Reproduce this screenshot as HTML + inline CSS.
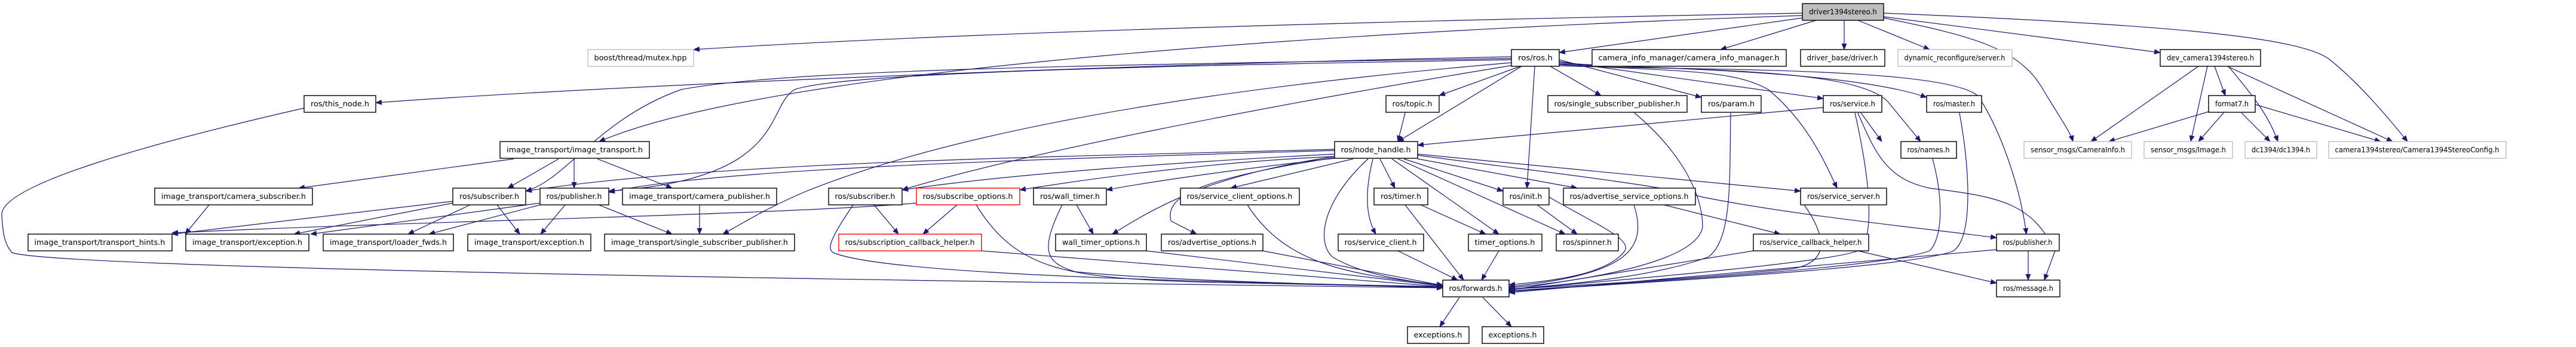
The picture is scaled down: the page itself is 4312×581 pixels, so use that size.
<!DOCTYPE html>
<html><head><meta charset="utf-8"><style>
html,body{margin:0;padding:0;background:#fff;}
svg{display:block;}
text{font-family:"DejaVu Sans","Liberation Sans",sans-serif;font-size:12px;fill:#000;}
.e{fill:none;stroke:#191970;stroke-width:1.2;}
.n{fill:#fff;stroke:#000;stroke-width:1.4;}
.g{fill:#fff;stroke:#bfbfbf;stroke-width:1.4;}
.r{fill:#fff;stroke:#ff0000;stroke-width:1.4;}
.d{fill:#bfbfbf;stroke:#000;stroke-width:1.4;}
</style></head><body>
<svg width="4312" height="581" viewBox="0 0 4312 581" xmlns="http://www.w3.org/2000/svg">
<defs><marker id="a" markerUnits="userSpaceOnUse" markerWidth="11" markerHeight="9" refX="10" refY="4.5" orient="auto"><path d="M0,0 L11,4.5 L0,9 z" fill="#191970"/></marker></defs>
<g class="e" marker-end="url(#a)">
<!-- driver edges -->
<path d="M3017,22 C2300,35 1600,55 1161,83"/>
<path d="M3017,26 C2300,50 1300,110 1003,237"/>
<path d="M3017,30 L2610,88"/>
<path d="M3040,34 L2880,83"/>
<path d="M3087,34 L3087,83"/>
<path d="M3110,34 L3230,83"/>
<path d="M3153,28 L3616,88"/>
<path d="M3153,30 C3300,60 3380,80 3420,150 C3450,200 3465,220 3470,237"/>
<path d="M3153,22 C3600,40 3850,60 3900,100 C3950,140 4000,200 4030,237"/>
<!-- ros.h edges -->
<path d="M2530,95 C1800,110 1000,145 629,172"/>
<path d="M2530,98 C1700,110 1300,120 1140,150 C1000,200 950,300 880,320"/>
<path d="M2530,100 C1800,112 1400,125 1330,150 C1280,180 1320,300 1019,320"/>
<path d="M2530,105 C2000,150 1600,220 1350,320 C1280,350 1250,370 1210,392"/>
<path d="M2540,108 C2100,180 1700,260 1510,318"/>
<path d="M2545,111 L2409,160"/>
<path d="M2547,111 L2340,237"/>
<path d="M2569,111 L2556,315"/>
<path d="M2595,111 L2680,160"/>
<path d="M2610,100 L2848,163"/>
<path d="M2610,103 L3052,165"/>
<path d="M2610,105 C2800,120 3100,110 3160,170 L3215,237"/>
<path d="M2610,107 C2800,115 3100,120 3225,163"/>
<path d="M2610,108 C2800,120 2900,115 2960,150 C3020,200 3050,260 3075,315"/>
<path d="M2610,110 C2800,118 3250,110 3310,160 C3340,200 3380,300 3392,392"/>
<!-- service etc -->
<path d="M3052,180 L2373,243"/>
<path d="M3115,189 L3150,237"/>
<path d="M3105,189 C3130,300 3140,400 3110,420 C3060,440 2700,470 2526,485"/>
<path d="M3110,189 C3140,260 3160,300 3230,315 C3350,330 3400,340 3440,420 L3422,469"/>
<path d="M3280,189 C3300,300 3300,400 3270,420 C3200,450 2700,475 2526,488"/>
<path d="M3235,266 C3255,340 3250,400 3230,420 C3150,450 2700,475 2526,487"/>
<path d="M2352,189 L2340,237"/>
<path d="M2736,189 C2820,260 2850,330 2850,380 C2840,440 2650,470 2526,482"/>
<path d="M2897,189 C2895,300 2900,400 2860,430 C2780,460 2650,475 2526,484"/>
<!-- node_handle edges -->
<path d="M2234,250 C1800,262 1200,270 880,320"/>
<path d="M2234,252 C1800,265 1200,280 1019,322"/>
<path d="M2234,258 C2000,270 1700,290 1510,318"/>
<path d="M2234,262 C2050,270 1850,295 1707,318"/>
<path d="M2234,265 C2100,280 1950,300 1852,318"/>
<path d="M2265,266 L2060,315"/>
<path d="M2234,264 C2000,300 1950,330 1960,370 L2003,392"/>
<path d="M2234,262 C2050,290 1960,330 1862,392"/>
<path d="M2310,266 L2335,315"/>
<path d="M2350,266 L2516,320"/>
<path d="M2373,266 L2640,315"/>
<path d="M2373,258 L3014,320"/>
<path d="M2373,260 C2600,290 2780,310 2850,330 C3000,360 3200,380 3342,398"/>
<path d="M2290,266 C2220,330 2200,400 2230,430 C2280,460 2350,470 2415,478"/>
<path d="M2298,266 C2285,320 2285,360 2303,392"/>
<path d="M2330,266 L2509,392"/>
<path d="M2340,266 L2620,392"/>
<!-- image transport -->
<path d="M350,343 L310,392"/>
<path d="M860,266 L500,315"/>
<path d="M935,266 L850,315"/>
<path d="M961,266 L961,315"/>
<path d="M1000,266 L1125,315"/>
<path d="M758,337 L288,392"/>
<path d="M758,340 L492,392"/>
<path d="M787,343 L683,392"/>
<path d="M832,343 L870,392"/>
<path d="M904,340 L520,392"/>
<path d="M904,343 L718,392"/>
<path d="M946,343 L905,392"/>
<path d="M1002,343 L1125,392"/>
<path d="M1534,340 C1300,360 700,370 288,390"/>
<path d="M1171,343 L1171,392"/>
<path d="M1463,343 L1504,392"/>
<path d="M1428,343 C1390,400 1380,420 1400,425 C1500,460 2000,472 2415,480"/>
<path d="M1602,343 L1545,392"/>
<path d="M1634,343 C1700,450 1780,465 2000,472 L2415,481"/>
<path d="M1643,420 L2415,480"/>
<path d="M1802,343 L1830,392"/>
<path d="M1778,343 C1740,420 1750,440 1800,455 C1950,470 2200,475 2415,482"/>
<path d="M1919,420 L2415,479"/>
<path d="M2114,420 L2415,478"/>
<path d="M2088,343 C2150,440 2250,460 2415,477"/>
<path d="M509,181 C250,240 0,310 3,360 C5,400 10,410 20,423 C100,450 1500,470 2415,482"/>
<path d="M2378,343 L2487,392"/>
<path d="M2352,343 L2450,469"/>
<path d="M2573,343 L2640,392"/>
<path d="M2593,330 C2680,380 2730,400 2720,420 C2690,460 2600,470 2526,477"/>
<path d="M2785,343 L2980,392"/>
<path d="M2735,343 C2760,420 2720,460 2526,480"/>
<path d="M3020,343 C3060,400 3060,440 3000,450 C2800,470 2600,480 2526,484"/>
<path d="M2935,420 L2526,486"/>
<path d="M3110,420 L3342,474"/>
<path d="M2340,420 L2440,469"/>
<path d="M2509,420 L2480,469"/>
<path d="M3342,418 L2526,490"/>
<path d="M3395,420 L3395,469"/>
<path d="M2443,498 L2410,547"/>
<path d="M2482,498 L2530,547"/>
<!-- dev -->
<path d="M3680,111 L3500,237"/>
<path d="M3695,111 L3667,237"/>
<path d="M3707,111 L3725,160"/>
<path d="M3730,111 C3780,170 3800,200 3813,237"/>
<path d="M3728,111 L4005,237"/>
<path d="M3697,187 L3530,237"/>
<path d="M3722,189 L3680,237"/>
<path d="M3752,189 L3800,237"/>
<path d="M3775,175 L3985,237"/>
</g>
<g>
<rect class="d" x="3017" y="6" width="136" height="28"/><text x="3085" y="24" text-anchor="middle" textLength="114" lengthAdjust="spacingAndGlyphs">driver1394stereo.h</text>
<rect class="g" x="984" y="83" width="177" height="28"/><text x="1072" y="101" text-anchor="middle" textLength="155" lengthAdjust="spacingAndGlyphs">boost/thread/mutex.hpp</text>
<rect class="n" x="2530" y="83" width="80" height="28"/><text x="2570" y="101" text-anchor="middle" textLength="58" lengthAdjust="spacingAndGlyphs">ros/ros.h</text>
<rect class="n" x="2665" y="83" width="325" height="28"/><text x="2827" y="101" text-anchor="middle" textLength="303" lengthAdjust="spacingAndGlyphs">camera_info_manager/camera_info_manager.h</text>
<rect class="n" x="3014" y="83" width="141" height="28"/><text x="3084" y="101" text-anchor="middle" textLength="119" lengthAdjust="spacingAndGlyphs">driver_base/driver.h</text>
<rect class="g" x="3177" y="83" width="191" height="28"/><text x="3272" y="101" text-anchor="middle" textLength="169" lengthAdjust="spacingAndGlyphs">dynamic_reconfigure/server.h</text>
<rect class="n" x="3616" y="83" width="168" height="28"/><text x="3700" y="101" text-anchor="middle" textLength="146" lengthAdjust="spacingAndGlyphs">dev_camera1394stereo.h</text>
<rect class="n" x="509" y="160" width="120" height="28"/><text x="569" y="178" text-anchor="middle" textLength="98" lengthAdjust="spacingAndGlyphs">ros/this_node.h</text>
<rect class="n" x="2320" y="160" width="89" height="28"/><text x="2364" y="178" text-anchor="middle" textLength="67" lengthAdjust="spacingAndGlyphs">ros/topic.h</text>
<rect class="n" x="2591" y="160" width="233" height="28"/><text x="2707" y="178" text-anchor="middle" textLength="211" lengthAdjust="spacingAndGlyphs">ros/single_subscriber_publisher.h</text>
<rect class="n" x="2848" y="160" width="100" height="28"/><text x="2898" y="178" text-anchor="middle" textLength="78" lengthAdjust="spacingAndGlyphs">ros/param.h</text>
<rect class="n" x="3052" y="160" width="98" height="28"/><text x="3101" y="178" text-anchor="middle" textLength="76" lengthAdjust="spacingAndGlyphs">ros/service.h</text>
<rect class="n" x="3225" y="160" width="92" height="28"/><text x="3271" y="178" text-anchor="middle" textLength="70" lengthAdjust="spacingAndGlyphs">ros/master.h</text>
<rect class="n" x="3697" y="160" width="78" height="28"/><text x="3736" y="178" text-anchor="middle" textLength="56" lengthAdjust="spacingAndGlyphs">format7.h</text>
<rect class="n" x="837" y="237" width="250" height="28"/><text x="962" y="255" text-anchor="middle" textLength="228" lengthAdjust="spacingAndGlyphs">image_transport/image_transport.h</text>
<rect class="n" x="2234" y="237" width="139" height="28"/><text x="2303" y="255" text-anchor="middle" textLength="117" lengthAdjust="spacingAndGlyphs">ros/node_handle.h</text>
<rect class="n" x="3182" y="237" width="93" height="28"/><text x="3228" y="255" text-anchor="middle" textLength="71" lengthAdjust="spacingAndGlyphs">ros/names.h</text>
<rect class="g" x="3388" y="237" width="180" height="28"/><text x="3478" y="255" text-anchor="middle" textLength="158" lengthAdjust="spacingAndGlyphs">sensor_msgs/CameraInfo.h</text>
<rect class="g" x="3589" y="237" width="148" height="28"/><text x="3663" y="255" text-anchor="middle" textLength="126" lengthAdjust="spacingAndGlyphs">sensor_msgs/Image.h</text>
<rect class="g" x="3758" y="237" width="120" height="28"/><text x="3818" y="255" text-anchor="middle" textLength="98" lengthAdjust="spacingAndGlyphs">dc1394/dc1394.h</text>
<rect class="g" x="3898" y="237" width="297" height="28"/><text x="4046" y="255" text-anchor="middle" textLength="275" lengthAdjust="spacingAndGlyphs">camera1394stereo/Camera1394StereoConfig.h</text>
<rect class="n" x="259" y="315" width="264" height="28"/><text x="391" y="333" text-anchor="middle" textLength="242" lengthAdjust="spacingAndGlyphs">image_transport/camera_subscriber.h</text>
<rect class="n" x="758" y="315" width="122" height="28"/><text x="819" y="333" text-anchor="middle" textLength="100" lengthAdjust="spacingAndGlyphs">ros/subscriber.h</text>
<rect class="n" x="904" y="315" width="115" height="28"/><text x="961" y="333" text-anchor="middle" textLength="93" lengthAdjust="spacingAndGlyphs">ros/publisher.h</text>
<rect class="n" x="1042" y="315" width="258" height="28"/><text x="1171" y="333" text-anchor="middle" textLength="236" lengthAdjust="spacingAndGlyphs">image_transport/camera_publisher.h</text>
<rect class="n" x="1387" y="315" width="123" height="28"/><text x="1448" y="333" text-anchor="middle" textLength="101" lengthAdjust="spacingAndGlyphs">ros/subscriber.h</text>
<rect class="r" x="1534" y="315" width="173" height="28"/><text x="1620" y="333" text-anchor="middle" textLength="151" lengthAdjust="spacingAndGlyphs">ros/subscribe_options.h</text>
<rect class="n" x="1730" y="315" width="122" height="28"/><text x="1791" y="333" text-anchor="middle" textLength="100" lengthAdjust="spacingAndGlyphs">ros/wall_timer.h</text>
<rect class="n" x="1976" y="315" width="199" height="28"/><text x="2075" y="333" text-anchor="middle" textLength="177" lengthAdjust="spacingAndGlyphs">ros/service_client_options.h</text>
<rect class="n" x="2300" y="315" width="90" height="28"/><text x="2345" y="333" text-anchor="middle" textLength="68" lengthAdjust="spacingAndGlyphs">ros/timer.h</text>
<rect class="n" x="2516" y="315" width="77" height="28"/><text x="2554" y="333" text-anchor="middle" textLength="55" lengthAdjust="spacingAndGlyphs">ros/init.h</text>
<rect class="n" x="2617" y="315" width="221" height="28"/><text x="2727" y="333" text-anchor="middle" textLength="199" lengthAdjust="spacingAndGlyphs">ros/advertise_service_options.h</text>
<rect class="n" x="3014" y="315" width="144" height="28"/><text x="3086" y="333" text-anchor="middle" textLength="122" lengthAdjust="spacingAndGlyphs">ros/service_server.h</text>
<rect class="n" x="47" y="392" width="241" height="28"/><text x="167" y="410" text-anchor="middle" textLength="219" lengthAdjust="spacingAndGlyphs">image_transport/transport_hints.h</text>
<rect class="n" x="311" y="392" width="206" height="28"/><text x="414" y="410" text-anchor="middle" textLength="184" lengthAdjust="spacingAndGlyphs">image_transport/exception.h</text>
<rect class="n" x="541" y="392" width="218" height="28"/><text x="650" y="410" text-anchor="middle" textLength="196" lengthAdjust="spacingAndGlyphs">image_transport/loader_fwds.h</text>
<rect class="n" x="783" y="392" width="206" height="28"/><text x="886" y="410" text-anchor="middle" textLength="184" lengthAdjust="spacingAndGlyphs">image_transport/exception.h</text>
<rect class="n" x="1012" y="392" width="318" height="28"/><text x="1171" y="410" text-anchor="middle" textLength="296" lengthAdjust="spacingAndGlyphs">image_transport/single_subscriber_publisher.h</text>
<rect class="r" x="1404" y="392" width="239" height="28"/><text x="1523" y="410" text-anchor="middle" textLength="217" lengthAdjust="spacingAndGlyphs">ros/subscription_callback_helper.h</text>
<rect class="n" x="1767" y="392" width="152" height="28"/><text x="1843" y="410" text-anchor="middle" textLength="130" lengthAdjust="spacingAndGlyphs">wall_timer_options.h</text>
<rect class="n" x="1944" y="392" width="170" height="28"/><text x="2029" y="410" text-anchor="middle" textLength="148" lengthAdjust="spacingAndGlyphs">ros/advertise_options.h</text>
<rect class="n" x="2240" y="392" width="143" height="28"/><text x="2311" y="410" text-anchor="middle" textLength="121" lengthAdjust="spacingAndGlyphs">ros/service_client.h</text>
<rect class="n" x="2458" y="392" width="123" height="28"/><text x="2519" y="410" text-anchor="middle" textLength="101" lengthAdjust="spacingAndGlyphs">timer_options.h</text>
<rect class="n" x="2605" y="392" width="104" height="28"/><text x="2657" y="410" text-anchor="middle" textLength="82" lengthAdjust="spacingAndGlyphs">ros/spinner.h</text>
<rect class="n" x="2935" y="392" width="193" height="28"/><text x="3031" y="410" text-anchor="middle" textLength="171" lengthAdjust="spacingAndGlyphs">ros/service_callback_helper.h</text>
<rect class="n" x="3342" y="392" width="105" height="28"/><text x="3394" y="410" text-anchor="middle" textLength="83" lengthAdjust="spacingAndGlyphs">ros/publisher.h</text>
<rect class="n" x="2415" y="469" width="111" height="28"/><text x="2470" y="487" text-anchor="middle" textLength="89" lengthAdjust="spacingAndGlyphs">ros/forwards.h</text>
<rect class="n" x="3342" y="469" width="106" height="28"/><text x="3395" y="487" text-anchor="middle" textLength="84" lengthAdjust="spacingAndGlyphs">ros/message.h</text>
<rect class="n" x="2356" y="547" width="103" height="28"/><text x="2407" y="565" text-anchor="middle" textLength="81" lengthAdjust="spacingAndGlyphs">exceptions.h</text>
<rect class="n" x="2481" y="547" width="103" height="28"/><text x="2532" y="565" text-anchor="middle" textLength="81" lengthAdjust="spacingAndGlyphs">exceptions.h</text>
</g>
</svg>
</body></html>
